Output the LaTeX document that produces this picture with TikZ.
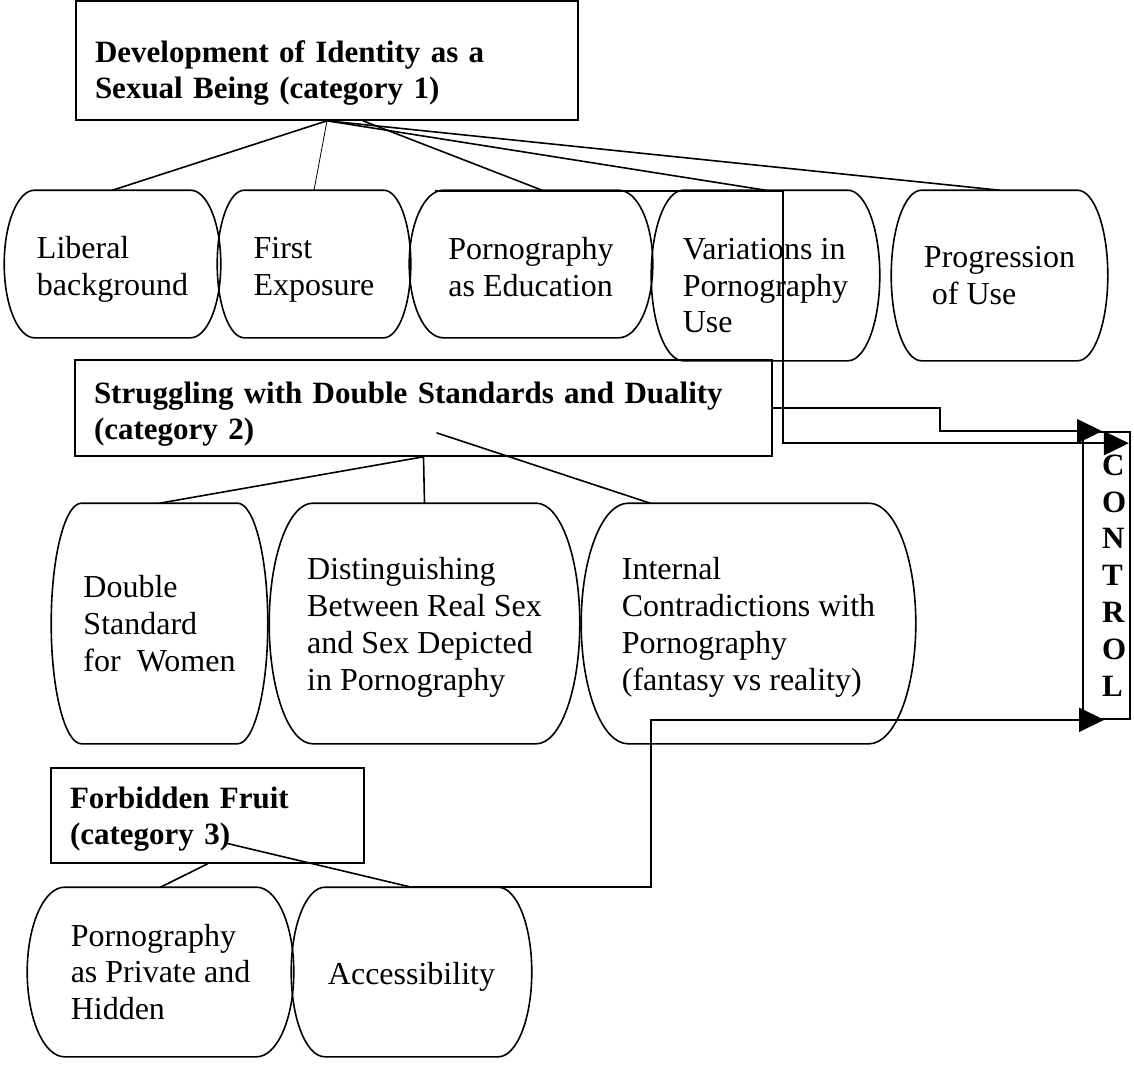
\documentclass[tikz,border=0pt]{standalone}
\usepackage{fontspec}
\setmainfont{Liberation Serif}
\usetikzlibrary{calc,arrows.meta}

\tikzset{
  barrel/.style={align=left,inner sep=0pt},
  catbox/.style={draw,align=left,inner xsep=0pt,inner ysep=0pt,font=\fontsize{31}{36.8}\selectfont\bfseries},
  arr/.style={-{Triangle[length=25pt,width=24pt]}}
}

\begin{document}
\begin{tikzpicture}[x=1pt,y=-1pt,line width=1.6pt,font=\fontsize{32}{36.8}\selectfont]
                \useasboundingbox (0,0) rectangle (1134,1068);
                \node[catbox,minimum width=502pt,minimum height=119pt,text width=464pt,text height=47pt] (cat1) at (327,60.5) {Development of Identity as a\\Sexual Being (category 1)};
                \node[catbox,minimum width=697pt,minimum height=96pt,text width=659pt,text height=34pt] (cat2) at (423.5,408) {Struggling with Double Standards and Duality\\(category 2)};
                \node[catbox,minimum width=313pt,minimum height=95pt,text width=275pt,text height=29pt] (cat3) at (207.5,815.5) {Forbidden Fruit\\(category 3)};
                \node[catbox,inner xsep=2pt,minimum width=47pt,minimum height=287pt,text width=42pt] (control) at (1106.5,575.5) {\leftskip=16.5pt C\\O\\N\\T\\R\\O\\L\par};
                \node[barrel,minimum width=215pt,minimum height=146pt,text height=69pt] (lib) at (112.5,264) {Liberal\\background};
                \node[barrel,minimum width=192pt,minimum height=146pt,text height=69pt] (first) at (314,264) {First\\Exposure};
                \node[barrel,minimum width=242pt,minimum height=146pt,text height=65pt] (edu) at (531,264) {Pornography\\as Education};
                \node[barrel,minimum width=227pt,minimum height=169pt,text height=115pt] (var) at (765.5,275.5) {Variations in\\Pornography\\Use};
                \node[barrel,minimum width=215pt,minimum height=169pt] (prog) at (999.5,275.5) {Progression\\\ of Use};
                \node[barrel,minimum width=215pt,minimum height=239pt] (dbl) at (159.5,623.5) {Double\\Standard\\for\ \ Women};
                \node[barrel,minimum width=309pt,minimum height=239pt,text height=140pt] (dist) at (424.5,623.5) {Distinguishing\\Between Real Sex\\and Sex Depicted\\in Pornography};
                \node[barrel,minimum width=333pt,minimum height=239pt,text height=140pt] (intl) at (748.5,623.5) {Internal\\Contradictions with\\Pornography\\(fantasy vs reality)};
                \node[barrel,minimum width=265pt,minimum height=168pt] (priv) at (160.5,972) {Pornography\\as Private and\\Hidden};
                \node[barrel,minimum width=239pt,minimum height=168pt,text height=32pt] (acc) at (411.5,972) {Accessibility};
                \foreach \s in {lib,first,edu,var,prog,dbl,dist,intl,priv,acc}
                    \draw let \p1=(\s.north west), \p2=(\s.south east), \n1={0.14*(\x2-\x1)}, \n2={(\y1-\y2)/2} in
                        (\x1+\n1,\y1) -- (\x2-\n1,\y1) arc[start angle=90,end angle=-90,x radius=\n1,y radius=\n2]
                        -- (\x1+\n1,\y2) arc[start angle=270,end angle=90,x radius=\n1,y radius=\n2] -- cycle;
                \foreach \s in {lib,var,prog}
                    \draw (cat1.south) -- (\s.north);
                \draw[line width=0.8pt] (cat1.south) -- (first.north);
                \draw ($(cat1.south)+(36,0)$) -- ($(edu.north)+(11,0)$);
                \foreach \s in {dbl,dist}
                    \draw (cat2.south) -- (\s.north);
                \draw ($(cat2.south)+(13,-24)$) -- ($(intl.north west)+(69,0)$);
                \draw (cat3.south) -- (priv.north);
                \draw ($(cat3.south)+(17,-21)$) -- (acc.north);
                \coordinate (edutop) at (435,191);
                \draw[arr] (cat2.east) -- ++(167,0) |- ($(control.north west)+(20,0)$);
                \draw[arr] (edutop) -- ++(348,0) |- ($(control.north east)+(-2,12)$);
                \draw[arr] (acc.north) -- ++(239.5,0) |- ($(control.south west)+(22,0)$);
            \end{tikzpicture}
\end{document}
